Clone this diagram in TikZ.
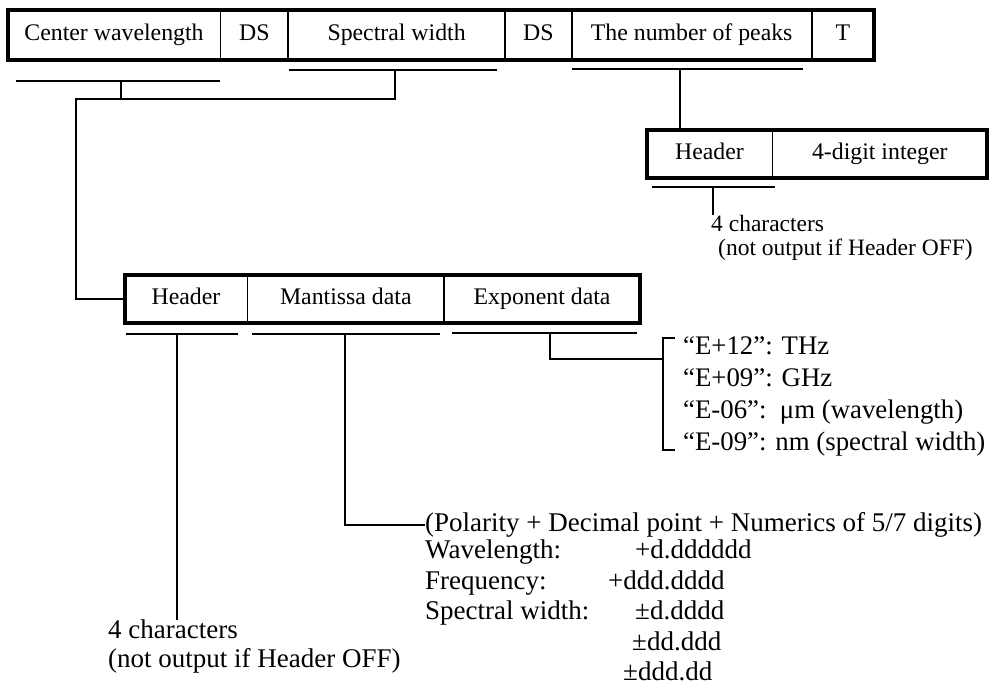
\documentclass[tikz,border=0pt]{standalone}
\usepackage{fontspec}
\setmainfont{Liberation Serif}
\usetikzlibrary{positioning}

\begin{document}
\begin{tikzpicture}[
  x=1pt, y=-1pt,
  cell/.style={draw, line width=0.8pt, inner sep=0pt, minimum height=48pt, text height=16pt, text depth=5pt, font=\fontsize{23.8}{28}\selectfont},
  frame/.style={draw, line width=4pt},
  uline/.style={line width=1.3pt},
  link/.style={line width=1.1pt},
  note/.style={align=left, inner sep=0pt, anchor=north west, font=\fontsize{23.5}{24}\selectfont},
  bignote/.style={align=left, inner sep=0pt, anchor=north west, font=\fontsize{27}{30.5}\selectfont}
]
\useasboundingbox (0,0) rectangle (989,690);

% output record
\node[cell, minimum width=212pt, minimum height=50pt] (cw) at (114,35) {Center wavelength};
\node[cell, minimum width=67pt, minimum height=50pt, right=0pt of cw] (ds1) {DS};
\node[cell, minimum width=216pt, minimum height=50pt, right=0pt of ds1] (sw) {Spectral width};
\node[cell, minimum width=66pt, minimum height=50pt, right=0pt of sw] (ds2) {DS};
\node[cell, minimum width=239pt, minimum height=50pt, right=0pt of ds2] (np) {The number of peaks};
\node[cell, minimum width=62pt, minimum height=50pt, right=0pt of np] (t) {T};
\draw[frame] (cw.north west) rectangle (t.south east);

% number of peaks
\node[cell, minimum width=125pt] (hh) at (709.5,154) {Header};
\node[cell, minimum width=214pt, right=0pt of hh] (dig) {4-digit integer};
\draw[frame] (hh.north west) rectangle (dig.south east);

% numeric data
\node[cell, minimum width=122pt] (lhd) at (186,299) {Header};
\node[cell, minimum width=196pt, right=0pt of lhd] (man) {Mantissa data};
\node[cell, minimum width=195pt, right=0pt of man] (exp) {Exponent data};
\draw[frame] (lhd.north west) rectangle (exp.south east);

% underlines
\foreach \a/\b/\y in {16/220/81, 289/497/70, 572/803/69, 652/775/187,
                      126/238/334, 252/440/334, 452/637/333}
  \draw[uline] (\a,\y) -- (\b,\y);

\coordinate (cwu) at (121,81);
\coordinate (swu) at (395,70);
\coordinate (npu) at (680,69);
\coordinate (hhu) at (713,187);
\coordinate (lhu) at (177,334);
\coordinate (manu) at (345,334);
\coordinate (expu) at (550,333);
\coordinate (bend) at (76,99);
\coordinate (brtop) at (663,338);
\coordinate (brmid) at (663,359);
\coordinate (brbot) at (663,450);

% notes
\node[note] (hhnote) at (711,215) {4 characters\\\hspace*{7pt}(not output if Header OFF)};
\node[bignote, font=\fontsize{27}{29}\selectfont] (lhnote) at (108,620) {4 characters\\(not output if Header OFF)};
\node[bignote, anchor=west] (mhead) at (425,525) {(Polarity + Decimal point + Numerics of 5/7 digits)};
\node[bignote] (mlist) at (425,540) {\makebox[210pt][l]{Wavelength:}+d.dddddd\\
  \makebox[183pt][l]{Frequency:}+ddd.dddd\\
  \makebox[210pt][l]{Spectral width:}±d.dddd\\
  \hspace*{207pt}±dd.ddd\\
  \hspace*{198pt}±ddd.dd};
\node[bignote, font=\fontsize{26.8}{32}\selectfont] (enote) at (683,336) {“E+12”: THz\\“E+09”: GHz\\“E-06”:\ \ μm (wavelength)\\“E-09”: nm (spectral width)};

% connectors
\draw[link] (cwu) -- (cwu |- bend);
\draw[link] (swu) |- (bend) |- (lhd.west);
\draw[link] (npu) -- (npu |- hh.north);
\draw[link] (hhu) -- (hhu |- hhnote.north);
\draw[link] (lhu) -- (lhu |- lhnote.north);
\draw[link] (manu) |- (mhead.west);
\draw[link] (expu) |- (brmid);
\draw[link] ([xshift=12pt]brtop) -- (brtop) -- (brbot) -- ([xshift=12pt]brbot);
\end{tikzpicture}
\end{document}
